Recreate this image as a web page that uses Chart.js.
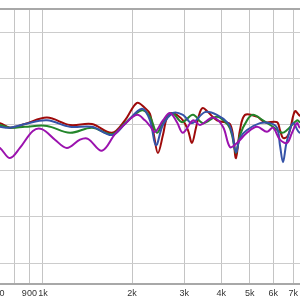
<!DOCTYPE html>
<html>
<head>
<meta charset="utf-8">
<script src="https://cdn.jsdelivr.net/npm/chart.js@4"></script>
<style>
  html, body { margin: 0; padding: 0; background: #fff; overflow: hidden; }
  #wrap { position: absolute; left: -20px; top: 0; width: 340px; height: 300px; }
</style>
</head>
<body>
<div id="wrap"><canvas id="myChart"></canvas></div>
<script>
const ctx = document.getElementById('myChart');

// frequency axis ticks (Hz) and their labels
const tickHz = [700, 800, 900, 1000, 2000, 3000, 4000, 5000, 6000, 7000, 8000];
const tickText = ['700', '', '900', '1k', '2k', '3k', '4k', '5k', '6k', '7k', '8k'];
const dbTicks = [60, 65, 70, 75, 80, 85];

const redHz = [613, 716, 774, 869, 1032, 1234, 1464, 1711, 1892, 2078, 2211, 2299, 2371, 2446, 2543, 2624, 2728, 2858, 2972, 3090, 3187, 3288, 3392, 3472, 3610, 3871, 4120, 4284, 4385, 4488, 4630, 4814, 5285, 5623, 6174, 6319, 6469, 6674, 6832, 7104, 7385, 7980, 8627];
const redDb = [75.5, 75.2, 74.7, 75.1, 75.8, 75.0, 75.1, 74.15, 75.5, 77.4, 76.85, 76.2, 73.9, 71.95, 73.9, 75.8, 76.3, 76.0, 75.5, 74.45, 73.05, 74.7, 76.4, 76.85, 76.4, 75.5, 75.3, 75.1, 73.9, 71.4, 74.45, 76.1, 75.9, 75.3, 75.3, 74.45, 73.6, 73.7, 74.45, 76.5, 76.0, 75.8, 75.5];

const greenHz = [613, 716, 774, 869, 1032, 1234, 1464, 1711, 1892, 2160, 2299, 2427, 2543, 2728, 2949, 3212, 3472, 3871, 4217, 4350, 4488, 4630, 4890, 5124, 5537, 5984, 6419, 6674, 7215, 7385, 7980, 8627];
const greenDb = [75.3, 75.0, 74.7, 74.8, 74.9, 74.15, 74.7, 74.0, 75.2, 76.6, 75.9, 74.15, 75.3, 76.3, 75.3, 76.1, 75.2, 75.9, 75.0, 73.9, 71.95, 73.9, 75.5, 76.1, 75.5, 74.8, 74.15, 74.45, 75.5, 75.3, 75.0, 75.0];

const blueHz = [613, 716, 774, 869, 1032, 1234, 1464, 1711, 1892, 2160, 2299, 2409, 2543, 2749, 2972, 3187, 3527, 3871, 4217, 4350, 4488, 4630, 4890, 5409, 5847, 6174, 6319, 6469, 6622, 6726, 6994, 7385, 7980, 8627];
const blueDb = [75.1, 74.8, 74.7, 75.1, 75.5, 74.8, 74.8, 73.9, 75.1, 76.75, 75.5, 72.8, 75.0, 76.3, 76.1, 75.2, 76.4, 76.1, 75.2, 74.15, 72.05, 73.6, 74.45, 75.2, 75.2, 74.7, 72.8, 70.95, 72.8, 73.7, 75.2, 74.15, 74.8, 75.0];

const purpleHz = [613, 716, 774, 836, 925, 992, 1098, 1205, 1334, 1419, 1582, 1751, 1892, 2078, 2211, 2299, 2390, 2543, 2686, 2836, 2972, 3212, 3392, 3752, 4056, 4284, 4523, 4890, 5285, 5712, 5984, 6319, 6674, 6939, 7215, 7385, 7980, 8627];
const purpleDb = [74.0, 72.5, 71.4, 72.5, 74.35, 74.55, 73.4, 72.5, 73.4, 73.5, 72.2, 74.0, 75.1, 76.1, 75.5, 74.9, 74.25, 75.5, 76.3, 75.3, 74.15, 75.5, 75.0, 75.8, 74.8, 72.6, 73.05, 74.15, 74.8, 74.25, 74.7, 73.4, 73.05, 74.15, 75.2, 74.7, 74.5, 74.5];

const pts = (hz, db) => hz.map((f, i) => ({x: f, y: db[i]}));

const line = (data, color) => ({
  data: data,
  borderColor: color,
  borderWidth: 2,
  pointRadius: 0,
  fill: false,
  tension: 0.35
});

// draws the grey frame line along the top of the plot
const topLine = {
  id: 'topLine',
  afterDraw(chart) {
    const a = chart.chartArea, c = chart.ctx;
    c.save();
    c.strokeStyle = '#a8a8a8';
    c.lineWidth = 2;
    c.beginPath();
    c.moveTo(a.left, a.top);
    c.lineTo(a.right, a.top);
    c.stroke();
    c.restore();
  }
};

new Chart(ctx, {
  type: 'line',
  data: {
    datasets: [
      line(pts(purpleHz, purpleDb), '#9b12ae'),
      line(pts(blueHz, blueDb), '#3553a8'),
      line(pts(greenHz, greenDb), '#23852a'),
      line(pts(redHz, redDb), '#9e0a0a')
    ]
  },
  options: {
    responsive: true,
    maintainAspectRatio: false,
    animation: false,
    layout: { padding: { top: 9, left: 0, right: 0, bottom: 0 } },
    plugins: { legend: { display: false }, tooltip: { enabled: false } },
    scales: {
      x: {
        type: 'logarithmic',
        min: 613,
        max: 8627,
        afterBuildTicks: s => { s.ticks = tickHz.map(v => ({value: v})); },
        afterFit: s => { s.height = 16; },
        grid: { color: '#c4c4c4', lineWidth: 1, drawTicks: false },
        border: { color: '#a8a8a8', width: 2 },
        ticks: {
          autoSkip: false,
          maxRotation: 0,
          padding: 4,
          color: '#333',
          font: { family: 'Liberation Sans', size: 9 },
          callback: (v, i) => tickText[i]
        }
      },
      y: {
        min: 57.72,
        max: 87.6,
        afterBuildTicks: s => { s.ticks = dbTicks.map(v => ({value: v})); },
        afterFit: s => { s.width = 0; },
        grid: { color: '#cccccc', lineWidth: 1, drawTicks: false },
        border: { display: false },
        ticks: { display: false }
      }
    }
  },
  plugins: [topLine]
});
</script>
</body>
</html>
